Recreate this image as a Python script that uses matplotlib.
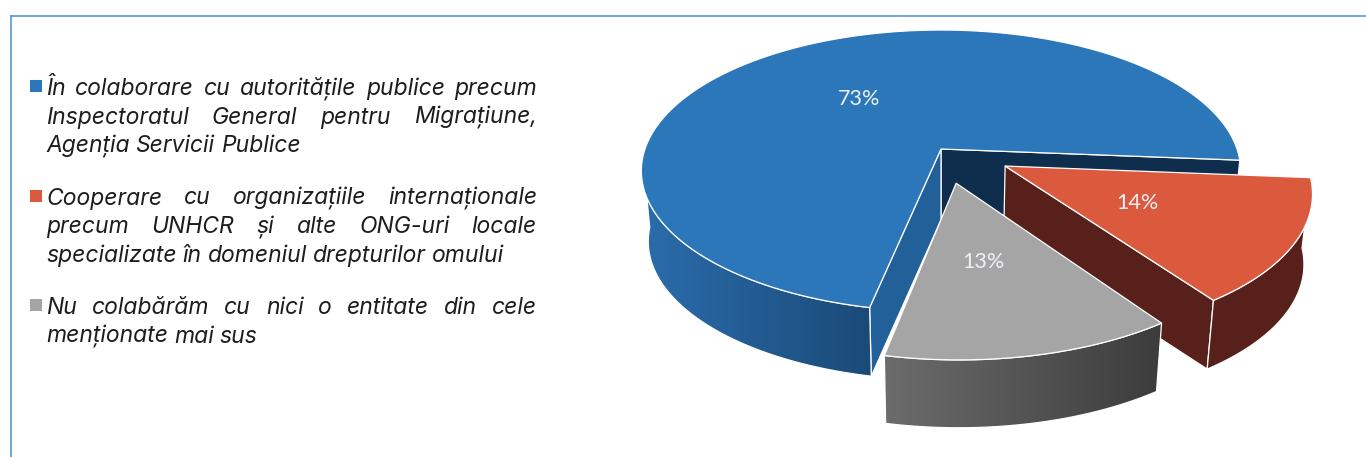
import numpy as np
import matplotlib
matplotlib.use("Agg")
import matplotlib.pyplot as plt
from matplotlib.patches import Polygon, Rectangle
from matplotlib.colors import to_rgb

shares = [73, 14, 13]
share_labels = ["73%", "14%", "13%"]
legend_lines = [
    ["În colaborare cu autoritățile publice precum",
     "Inspectoratul General pentru Migrațiune,",
     "Agenția Servicii Publice"],
    ["Cooperare cu organizațiile internaționale",
     "precum UNHCR și alte ONG-uri locale",
     "specializate în domeniul drepturilor omului"],
    ["Nu colabărăm cu nici o entitate din cele",
     "menționate mai sus"],
]
top_colors = ["#2c76ba", "#db5a3e", "#a5a5a5"]
side_colors = [("#2a6dac", "#1b4a78"), ("#57201a", "#57201a"), ("#6c6c6c", "#3c3c3c")]
explode = [0.0, 0.245, 0.245]
inner_wall_front = "#22609a"
inner_wall_back = "#0f2d4d"
TEXT_FONT = "Inter"
LABEL_FONT = "Lato"

# Projection of the pie plane onto the page
CX, CY, RX, RY, PERSP = 941.0, 149.0, 296.0, 137.4, 0.155
DEPTH, BOTTOM_XSCALE, BOTTOM_YSCALE = 71.0, 0.977, 0.985
START_ANGLE = 258.2
LARGE_RIM_SWEEP = 75.0

fig = plt.figure(figsize=(13.66, 4.57), dpi=100)
ax = fig.add_axes([0, 0, 1, 1])
ax.axis("off")


def project(u, v, bottom=False):
    u, v = np.asarray(u, float), np.asarray(v, float)
    w = 1 + PERSP * v
    x = RX * u / w
    y = -RY * v / w
    if bottom:
        return CX + BOTTOM_XSCALE * x, CY + DEPTH + BOTTOM_YSCALE * y
    return CX + x, CY + y


def arc_points(a0, a1, off, bottom=False, n=120):
    t = np.radians(np.linspace(a0, a1, n))
    x, y = project(np.cos(t) + off[0], np.sin(t) + off[1], bottom)
    return np.column_stack([x, y])


def add_poly(pts, face, z, lw=0.9):
    ax.add_patch(Polygon(pts, closed=True, facecolor=face, edgecolor="white",
                         linewidth=lw, joinstyle="round", zorder=z))


def add_gradient_poly(pts, left, right, z, lw=0.9):
    poly = Polygon(pts, closed=True, facecolor="none", edgecolor="white",
                   linewidth=lw, zorder=z + 0.1)
    ax.add_patch(poly)
    c0, c1 = np.array(to_rgb(left)), np.array(to_rgb(right))
    ramp = np.linspace(0, 1, 256)[None, :, None]
    img = c0[None, None, :] * (1 - ramp) + c1[None, None, :] * ramp
    xmin, xmax = pts[:, 0].min(), pts[:, 0].max()
    ymin, ymax = pts[:, 1].min(), pts[:, 1].max()
    im = ax.imshow(img, extent=[xmin, xmax, ymax, ymin], aspect="auto", zorder=z)
    im.set_clip_path(poly)


def wall(a, off):
    t = np.radians(a)
    apex_t = project(off[0], off[1])
    apex_b = project(off[0], off[1], True)
    rim_t = project(np.cos(t) + off[0], np.sin(t) + off[1])
    rim_b = project(np.cos(t) + off[0], np.sin(t) + off[1], True)
    return np.array([apex_t, rim_t, rim_b, apex_b])


# Slice angles run clockwise from the start angle
spans = np.array(shares) / sum(shares) * 360.0
ends = START_ANGLE - np.cumsum(spans)
starts = ends + spans
mids = (starts + ends) / 2
offsets = [(e * np.cos(np.radians(m)), e * np.sin(np.radians(m))) for e, m in zip(explode, mids)]

# Large slice: inner walls, rim, then the top
off = offsets[0]
add_poly(wall(ends[0], off), inner_wall_back, 2)
add_poly(wall(starts[0], off), inner_wall_front, 3)
top_arc = arc_points(starts[0], starts[0] - LARGE_RIM_SWEEP, off)
bot_arc = arc_points(starts[0], starts[0] - LARGE_RIM_SWEEP, off, True)
add_gradient_poly(np.vstack([top_arc, bot_arc[::-1]]), side_colors[0][0], side_colors[0][1], 4)
add_poly(np.vstack([project(*off), arc_points(starts[0], ends[0], off, n=400)]), top_colors[0], 5)

# Second slice
off = offsets[1]
add_poly(wall(ends[1], off), side_colors[1][0], 6)
top_arc = arc_points(ends[1], starts[1], off)
bot_arc = arc_points(ends[1], starts[1], off, True)
add_poly(np.vstack([top_arc, bot_arc[::-1]]), side_colors[1][0], 7)
add_poly(np.vstack([project(*off), arc_points(starts[1], ends[1], off)]), top_colors[1], 8)

# Third slice
off = offsets[2]
top_arc = arc_points(starts[2], ends[2], off)
bot_arc = arc_points(starts[2], ends[2], off, True)
add_gradient_poly(np.vstack([top_arc, bot_arc[::-1]]), side_colors[2][0], side_colors[2][1], 9)
add_poly(np.vstack([project(*off), top_arc]), top_colors[2], 11)

# Share labels
label_positions = [(859, 99), (1137, 203), (983, 262)]
for lab, (lx, ly) in zip(share_labels, label_positions):
    ax.text(lx, ly, lab, color="#eef2f6", fontsize=15.5, family=LABEL_FONT,
            ha="center", va="center", zorder=20)

# Panel border along the top and left
ax.plot([10, 1366], [15.5, 15.5], color="#5b95d2", lw=1.2, zorder=1, solid_capstyle="butt")
ax.plot([10.5, 10.5], [15, 457], color="#5b95d2", lw=1.2, zorder=1, solid_capstyle="butt")

ax.set_xlim(0, 1366)
ax.set_ylim(457, 0)

# Justified legend paragraphs, word by word
renderer = fig.canvas.get_renderer()
X0, X1 = 46.0, 537.0
FS = 16.5
LEADING = 28.7
baselines = [95.0, 204.5, 314.0]
for para, b0, col in zip(legend_lines, baselines, top_colors):
    ax.add_patch(Rectangle((30, b0 - 15), 12, 12, facecolor=col, edgecolor="none", zorder=3))
    for i, line in enumerate(para):
        y = b0 + i * LEADING
        last = i == len(para) - 1
        words = line.split(" ")
        items = [ax.text(X0, y, w, fontsize=FS, style="italic", family=TEXT_FONT,
                         color="#1d1d1d", ha="left", va="baseline", zorder=5) for w in words]
        widths = [t.get_window_extent(renderer).width for t in items]
        space = 6.0 if last else (X1 - X0 - sum(widths)) / (len(words) - 1)
        x = X0
        for t, w in zip(items, widths):
            t.set_x(x)
            x += w + space

fig.savefig("out.png", dpi=100)
